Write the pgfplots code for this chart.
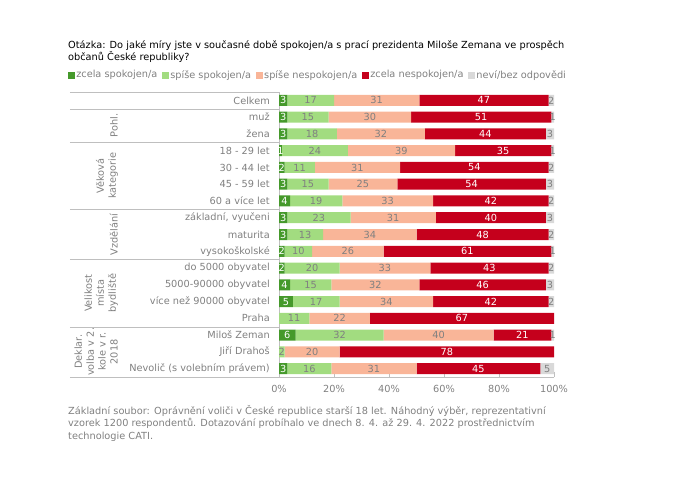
\documentclass[border=0pt]{standalone}
\usepackage{fontspec}
\setmainfont{DejaVu Sans}
\usepackage{pgfplots}
\usepackage{pgfplotstable}
\pgfplotsset{compat=1.18}
\definecolor{cA}{HTML}{45992B}
\definecolor{cB}{HTML}{A2DC80}
\definecolor{cC}{HTML}{F9B598}
\definecolor{cD}{HTML}{C5001C}
\definecolor{cE}{HTML}{D9D9D9}
\definecolor{tgray}{HTML}{808080}
\definecolor{lgray}{HTML}{BFBFBF}
\pgfplotstableread{
row a b c d e
0 3 17 31 47 2
1 3 15 30 51 1
2 3 18 32 44 3
3 1 24 39 35 1
4 2 11 31 54 2
5 3 15 25 54 3
6 4 19 33 42 2
7 3 23 31 40 3
8 3 13 34 48 2
9 2 10 26 61 1
10 2 20 33 43 2
11 4 15 32 46 3
12 5 17 34 42 2
13 0 11 22 67 0
14 6 32 40 21 1
15 0 2 20 78 0
16 3 16 31 45 5
}\data
\pgfplotstablecreatecol[create col/expr={\thisrow{a}/2}]{ma}\data
\pgfplotstablecreatecol[create col/expr={\thisrow{a}+\thisrow{b}/2}]{mb}\data
\pgfplotstablecreatecol[create col/expr={\thisrow{a}+\thisrow{b}+\thisrow{c}/2}]{mc}\data
\pgfplotstablecreatecol[create col/expr={\thisrow{a}+\thisrow{b}+\thisrow{c}+\thisrow{d}/2}]{md}\data
\pgfplotstablecreatecol[create col/expr={\thisrow{a}+\thisrow{b}+\thisrow{c}+\thisrow{d}+\thisrow{e}/2}]{me}\data
\newcommand{\fs}{\fontsize{9.8}{12}\selectfont}
\newcommand{\fsb}{\fontsize{9.8}{12.7}\selectfont}
\pgfplotsset{
  base/.style={
    at={(279bp,-92bp)}, anchor=north west,
    width=275bp, height=285bp, scale only axis,
    xmin=0, xmax=100, ymin=-0.5, ymax=16.5, y dir=reverse,
  },
  lbl/.style={draw=none, mark=none, point meta=explicit symbolic,
    nodes near coords={\ifnum\pgfplotspointmeta=0 \else\pgfplotspointmeta\fi},
    every node near coord/.append style={anchor=center, font=\fs, text=#1, inner sep=0pt}},
}
\begin{document}
\begin{tikzpicture}
\useasboundingbox (0,0) rectangle (682bp,-496bp);
\node[anchor=north west, align=left, font=\fsb, inner sep=0pt] at (68bp,-40bp)
  {Otázka: Do jaké míry jste v současné době spokojen/a s prací prezidenta Miloše Zemana ve prospěch\\občanů České republiky?};
\begin{axis}[base,
  xbar stacked, bar width=11bp,
  clip=false,
  axis x line*=bottom, axis y line*=left,
  axis line style={lgray, -},
  xtick={0,20,40,60,80,100},
  xticklabels={0\%,20\%,40\%,60\%,80\%,100\%},
  xticklabel style={font=\fs, text=tgray, yshift=-5bp},
  tick align=inside, major tick length=5bp,
  x tick style={lgray},
  ytick={0,...,16},
  y tick style={draw=none},
  yticklabels={Celkem,muž,žena,18 - 29 let,30 - 44 let,45 - 59 let,60 a více let,{základní, vyučeni},maturita,vysokoškolské,do 5000 obyvatel,5000-90000 obyvatel,více než 90000 obyvatel,Praha,Miloš Zeman,Jiří Drahoš,Nevolič (s volebním právem)},
  yticklabel style={font=\fs, text=tgray, anchor=east, inner sep=0pt, xshift=-9bp},
  legend style={at={(axis description cs:-0.767,1.0596)}, anchor=west, draw=none, fill=none, font=\fs, text=tgray,
    legend columns=-1, inner sep=0pt,
    /tikz/every even column/.append style={column sep=4bp},
    nodes={inner sep=1pt}},
  legend cell align=left,
  legend image code/.code={\fill[#1] (0bp,-3.5bp) rectangle (7bp,3.5bp);},
]
\addplot[fill=cA, draw=none] table[x=a, y=row]{\data};
\addplot[fill=cB, draw=none] table[x=b, y=row]{\data};
\addplot[fill=cC, draw=none] table[x=c, y=row]{\data};
\addplot[fill=cD, draw=none] table[x=d, y=row]{\data};
\addplot[fill=cE, draw=none] table[x=e, y=row]{\data};
\legend{zcela spokojen/a,spíše spokojen/a,spíše nespokojen/a,zcela nespokojen/a,neví/bez odpovědi}
\draw[lgray] ([xshift=-209bp]axis cs:0,-0.5) -- (axis cs:0,-0.5);
\draw[lgray] ([xshift=-209bp]axis cs:0,0.5) -- (axis cs:0,0.5);
\draw[lgray] ([xshift=-209bp]axis cs:0,2.5) -- (axis cs:0,2.5);
\draw[lgray] ([xshift=-209bp]axis cs:0,6.5) -- (axis cs:0,6.5);
\draw[lgray] ([xshift=-209bp]axis cs:0,9.5) -- (axis cs:0,9.5);
\draw[lgray] ([xshift=-209bp]axis cs:0,13.5) -- (axis cs:0,13.5);
\draw[lgray] ([xshift=-209bp]axis cs:0,16.5) -- (axis cs:0,16.5);
\node[rotate=90, anchor=south, align=center, font=\fs, text=tgray, inner sep=1bp] at ([xshift=-160bp]axis cs:0,1.5) {Pohl.};
\node[rotate=90, anchor=south, align=center, font=\fs, text=tgray, inner sep=1bp] at ([xshift=-160bp]axis cs:0,4.5) {Věková\\kategorie};
\node[rotate=90, anchor=south, align=center, font=\fs, text=tgray, inner sep=1bp] at ([xshift=-160bp]axis cs:0,8) {Vzdělání};
\node[rotate=90, anchor=south, align=center, font=\fs, text=tgray, inner sep=1bp] at ([xshift=-160bp]axis cs:0,11.5) {Velikost\\místa\\bydliště};
\node[rotate=90, anchor=south, align=center, font=\fs, text=tgray, inner sep=1bp] at ([xshift=-160bp]axis cs:0,15) {Deklar.\\volba v 2.\\kole v r.\\2018};
\end{axis}
\begin{axis}[base, hide axis, clip=false]
\addplot[lbl=white] table[x=ma, y=row, meta=a]{\data};
\addplot[lbl=tgray] table[x=mb, y=row, meta=b]{\data};
\addplot[lbl=tgray] table[x=mc, y=row, meta=c]{\data};
\addplot[lbl=white] table[x=md, y=row, meta=d]{\data};
\addplot[lbl=tgray] table[x=me, y=row, meta=e]{\data};
\end{axis}
\node[anchor=north west, align=left, font=\fsb, text=tgray, inner sep=0pt] at (68bp,-405bp)
  {Základní soubor: Oprávnění voliči v České republice starší 18 let. Náhodný výběr, reprezentativní\\vzorek 1200 respondentů. Dotazování probíhalo ve dnech 8. 4. až 29. 4. 2022 prostřednictvím\\technologie CATI.};
\end{tikzpicture}
\end{document}
